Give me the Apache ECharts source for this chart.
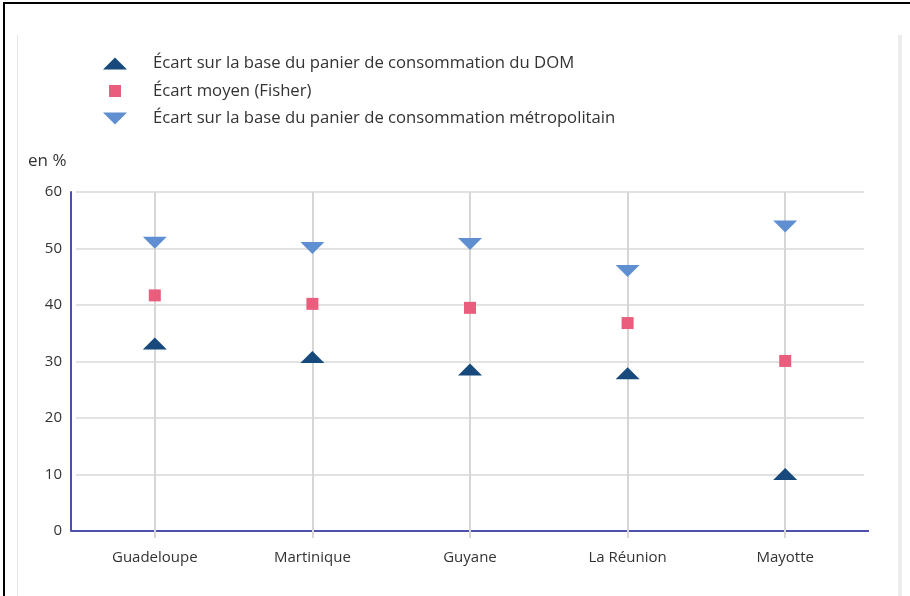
<!DOCTYPE html>
<html>
<head>
<meta charset="utf-8">
<script src="https://cdn.jsdelivr.net/npm/echarts@6/dist/echarts.min.js"></script>
<style>
  html, body { margin: 0; padding: 0; background: #fff; }
  #frame { position: absolute; left: 3px; top: 2px; width: 907px; height: 594px;
           border-left: 2px solid #000; border-top: 2px solid #000; }
  #page { position: absolute; left: 17px; top: 35px; width: 880px; height: 561px;
          border-left: 1px solid #e6e6e6; border-right: 4px solid #ececec; }
  #chart { position: absolute; left: 0; top: 0; width: 910px; height: 596px; }
</style>
</head>
<body>
<div id="frame"></div>
<div id="page"></div>
<div id="chart"></div>
<script>
// territoires
const categories = ['Guadeloupe', 'Martinique', 'Guyane', 'La Réunion', 'Mayotte'];
const seriesNames = [
  'Écart sur la base du panier de consommation du DOM',
  'Écart moyen (Fisher)',
  'Écart sur la base du panier de consommation métropolitain'
];
// écarts en %
const ecartDom = [33.2, 30.8, 28.6, 27.9, 10.1];
const ecartFisher = [41.7, 40.2, 39.5, 36.8, 30.1];
const ecartMetro = [51.0, 50.1, 50.8, 46.0, 53.9];
const yTicks = [0, 10, 20, 30, 40, 50, 60];

const colors = ['#17497c', '#e95d7d', '#5f8fd0'];
const triUp = 'path://M0,12L12,0L24,12Z';
const triDown = 'path://M0,0L24,0L12,12Z';
const square = 'path://M0,0L12,0L12,12L0,12Z';
const font = '"Open Sans", "Noto Sans", sans-serif';

const chart = echarts.init(document.getElementById('chart'), null, { renderer: 'canvas' });

const option = {
  animation: false,
  backgroundColor: 'transparent',
  color: colors,
  title: {
    text: 'en %',
    left: 23,
    top: 148,
    textStyle: { fontFamily: font, fontSize: 17, fontWeight: 'normal', color: '#333' }
  },
  legend: {
    orient: 'vertical',
    left: 98,
    top: 50,
    itemWidth: 66,
    itemHeight: 12,
    itemGap: 10.5,
    selectedMode: false,
    textStyle: { fontFamily: font, fontSize: 16.7, color: '#333' },
    data: [
      { name: seriesNames[0], icon: triUp },
      { name: seriesNames[1], icon: square },
      { name: seriesNames[2], icon: triDown }
    ]
  },
  grid: { left: 76, right: 46, top: 192, bottom: 65 },
  xAxis: [{
    type: 'category',
    data: categories,
    position: 'bottom',
    axisLine: {
      lineStyle: { color: '#4f4fae', width: 2 },
      symbol: ['rect', 'rect'],
      symbolSize: [2, 10]
    },
    axisTick: { show: true, alignWithLabel: true, length: 7, lineStyle: { color: '#d6d6d6', width: 2 } },
    axisLabel: { margin: 19, fontFamily: font, fontSize: 15, color: '#333' },
    splitLine: { show: false }
  }, {
    type: 'category',
    data: categories,
    position: 'top',
    axisLine: { show: false },
    axisTick: { show: true, alignWithLabel: true, inside: true, length: 339, lineStyle: { color: '#d6d6d6', width: 2 } },
    axisLabel: { show: false },
    splitLine: { show: false }
  }],
  yAxis: {
    type: 'value',
    min: yTicks[0],
    max: yTicks[yTicks.length - 1],
    interval: 10,
    offset: 5,
    axisLine: { show: true, lineStyle: { color: '#4f4fae', width: 2 } },
    axisTick: { show: false },
    axisLabel: { margin: 9, fontFamily: font, fontSize: 15, color: '#333' },
    splitLine: { lineStyle: { color: '#d9d9d9', width: 1.5 } }
  },
  series: [{
    name: seriesNames[0],
    type: 'scatter',
    symbol: triUp,
    symbolSize: [24, 12],
    itemStyle: { opacity: 1 },
    data: ecartDom,
    z: 3
  }, {
    name: seriesNames[1],
    type: 'scatter',
    symbol: square,
    symbolSize: 12,
    itemStyle: { opacity: 1 },
    data: ecartFisher,
    z: 3
  }, {
    name: seriesNames[2],
    type: 'scatter',
    symbol: triDown,
    symbolSize: [24, 12],
    itemStyle: { opacity: 1 },
    data: ecartMetro,
    z: 3
  }]
};

chart.setOption(option);
</script>
</body>
</html>
